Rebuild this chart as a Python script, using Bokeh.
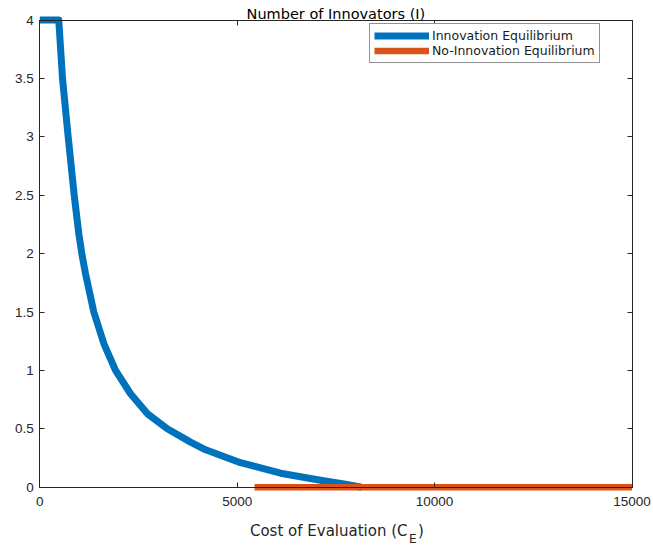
from bokeh.plotting import figure
from bokeh.models import Range1d, FixedTicker, LinearAxis, Label, Legend, LegendItem
from bokeh.embed import file_html
from bokeh.resources import INLINE

# ---- data ----
x_ticks = [0, 5000, 10000, 15000]
x_tick_labels = ["0", "5000", "10000", "15000"]
y_ticks = [0, 0.5, 1, 1.5, 2, 2.5, 3, 3.5, 4]
y_tick_labels = ["0", "0.5", "1", "1.5", "2", "2.5", "3", "3.5", "4"]
x_lim = [0, 15000]
y_lim = [0, 4]

innov_cost = [0, 480, 575, 719, 871, 988, 1074, 1157, 1368, 1622, 1918, 2299, 2722,
              3229, 3819, 4200, 5084, 6098, 7111, 7700, 8150]
innov_I = [4, 4, 3.5, 3.0, 2.5, 2.17, 1.98, 1.83, 1.5, 1.23, 1.0, 0.80, 0.63,
           0.50, 0.386, 0.32, 0.21, 0.12, 0.06, 0.028, 0]
noinnov_cost = [5440, 15000]
noinnov_I = [0, 0]

title_text = "Number of Innovators (I)"
xlabel_main = "Cost of Evaluation (C"
xlabel_sub = "E"
xlabel_end = ")"
legend_labels = ["Innovation Equilibrium", "No-Innovation Equilibrium"]

# ---- layout (pixels of the canvas) ----
W, H = 652, 544
BOX_L, BOX_R, BOX_T, BOX_B = 39.3, 631.5, 19.5, 486.7
sx = (x_lim[1] - x_lim[0]) / (BOX_R - BOX_L)
sy = (y_lim[1] - y_lim[0]) / (BOX_B - BOX_T)
x_range = Range1d(x_lim[0] - BOX_L * sx, x_lim[1] + (W - BOX_R) * sx)
y_range = Range1d(y_lim[0] - (H - BOX_B) * sy, y_lim[1] + BOX_T * sy)
AX = "#262626"
TXT = "#262626"

p = figure(frame_width=W, frame_height=H, x_range=x_range, y_range=y_range,
           output_backend="svg", toolbar_location=None,
           x_axis_location=None, y_axis_location=None,
           min_border_left=0, min_border_right=0, min_border_top=0, min_border_bottom=0)
p.outline_line_color = None
p.grid.visible = False
p.background_fill_color = "white"
p.border_fill_color = "white"


def make_axis(ticks, labels, fixed, bounds, show):
    ax = LinearAxis(ticker=FixedTicker(ticks=ticks), fixed_location=fixed, bounds=bounds)
    ax.major_label_overrides = {t: (l if show else "") for t, l in zip(ticks, labels)}
    ax.major_tick_in = 5
    ax.major_tick_out = 0
    ax.minor_tick_in = 0
    ax.minor_tick_out = 0
    ax.axis_line_color = AX
    ax.major_tick_line_color = AX
    ax.axis_line_width = 1
    if show:
        ax.major_label_text_font = "Liberation Sans"
        ax.major_label_text_font_size = "13.5px"
        ax.major_label_text_color = TXT
    else:
        ax.major_label_text_font_size = "1px"
        ax.major_label_text_alpha = 0
        ax.major_label_standoff = 0
    return ax


xb = make_axis(x_ticks, x_tick_labels, y_lim[0], (x_lim[0], x_lim[1]), True)
xb.major_label_standoff = 10
yl = make_axis(y_ticks, y_tick_labels, x_lim[0], (y_lim[0], y_lim[1]), True)
yl.major_label_standoff = 6
xt = make_axis(x_ticks, x_tick_labels, y_lim[1], (x_lim[0], x_lim[1]), False)
yr = make_axis(y_ticks, y_tick_labels, x_lim[1], (y_lim[0], y_lim[1]), False)
p.add_layout(xb, "below")
p.add_layout(yl, "left")
p.add_layout(xt, "above")
p.add_layout(yr, "right")

r1 = p.line(innov_cost, innov_I, line_color="#0072BD", line_width=7, line_join="round")
r2 = p.line(noinnov_cost, noinnov_I, line_color="#D95319", line_width=6.5)

legend = Legend(items=[LegendItem(label=legend_labels[0], renderers=[r1]),
                       LegendItem(label=legend_labels[1], renderers=[r2])],
                location=(369, H - 63))
legend.label_text_font = "DejaVu Sans"
legend.label_text_font_size = "12.5px"
legend.label_text_color = "#1a1a1a"
legend.glyph_width = 55
legend.glyph_height = 15
legend.label_height = 15
legend.label_standoff = 3
legend.spacing = 0
legend.padding = 4
legend.margin = 0
legend.border_line_color = AX
legend.border_line_width = 1
legend.background_fill_alpha = 1
p.add_layout(legend, "center")

mid_x = (x_lim[0] + x_lim[1]) / 2
p.add_layout(Label(x=mid_x, y=y_lim[1], y_offset=6.5, text=title_text,
                   text_align="center", text_baseline="alphabetic",
                   text_font="DejaVu Sans", text_font_size="14.5px",
                   text_color="#000000"))
p.add_layout(Label(x=9314, y=y_lim[0], y_offset=-43.3, text=xlabel_main,
                   text_align="right", text_baseline="alphabetic",
                   text_font="DejaVu Sans", text_font_size="15px",
                   text_color=TXT))
p.add_layout(Label(x=9352, y=y_lim[0], y_offset=-51.3, text=xlabel_sub,
                   text_align="left", text_baseline="alphabetic",
                   text_font="DejaVu Sans", text_font_size="12px",
                   text_color=TXT))
p.add_layout(Label(x=9580, y=y_lim[0], y_offset=-43.3, text=xlabel_end,
                   text_align="left", text_baseline="alphabetic",
                   text_font="DejaVu Sans", text_font_size="15px",
                   text_color=TXT))

open("out.html", "w").write(file_html(p, INLINE))
